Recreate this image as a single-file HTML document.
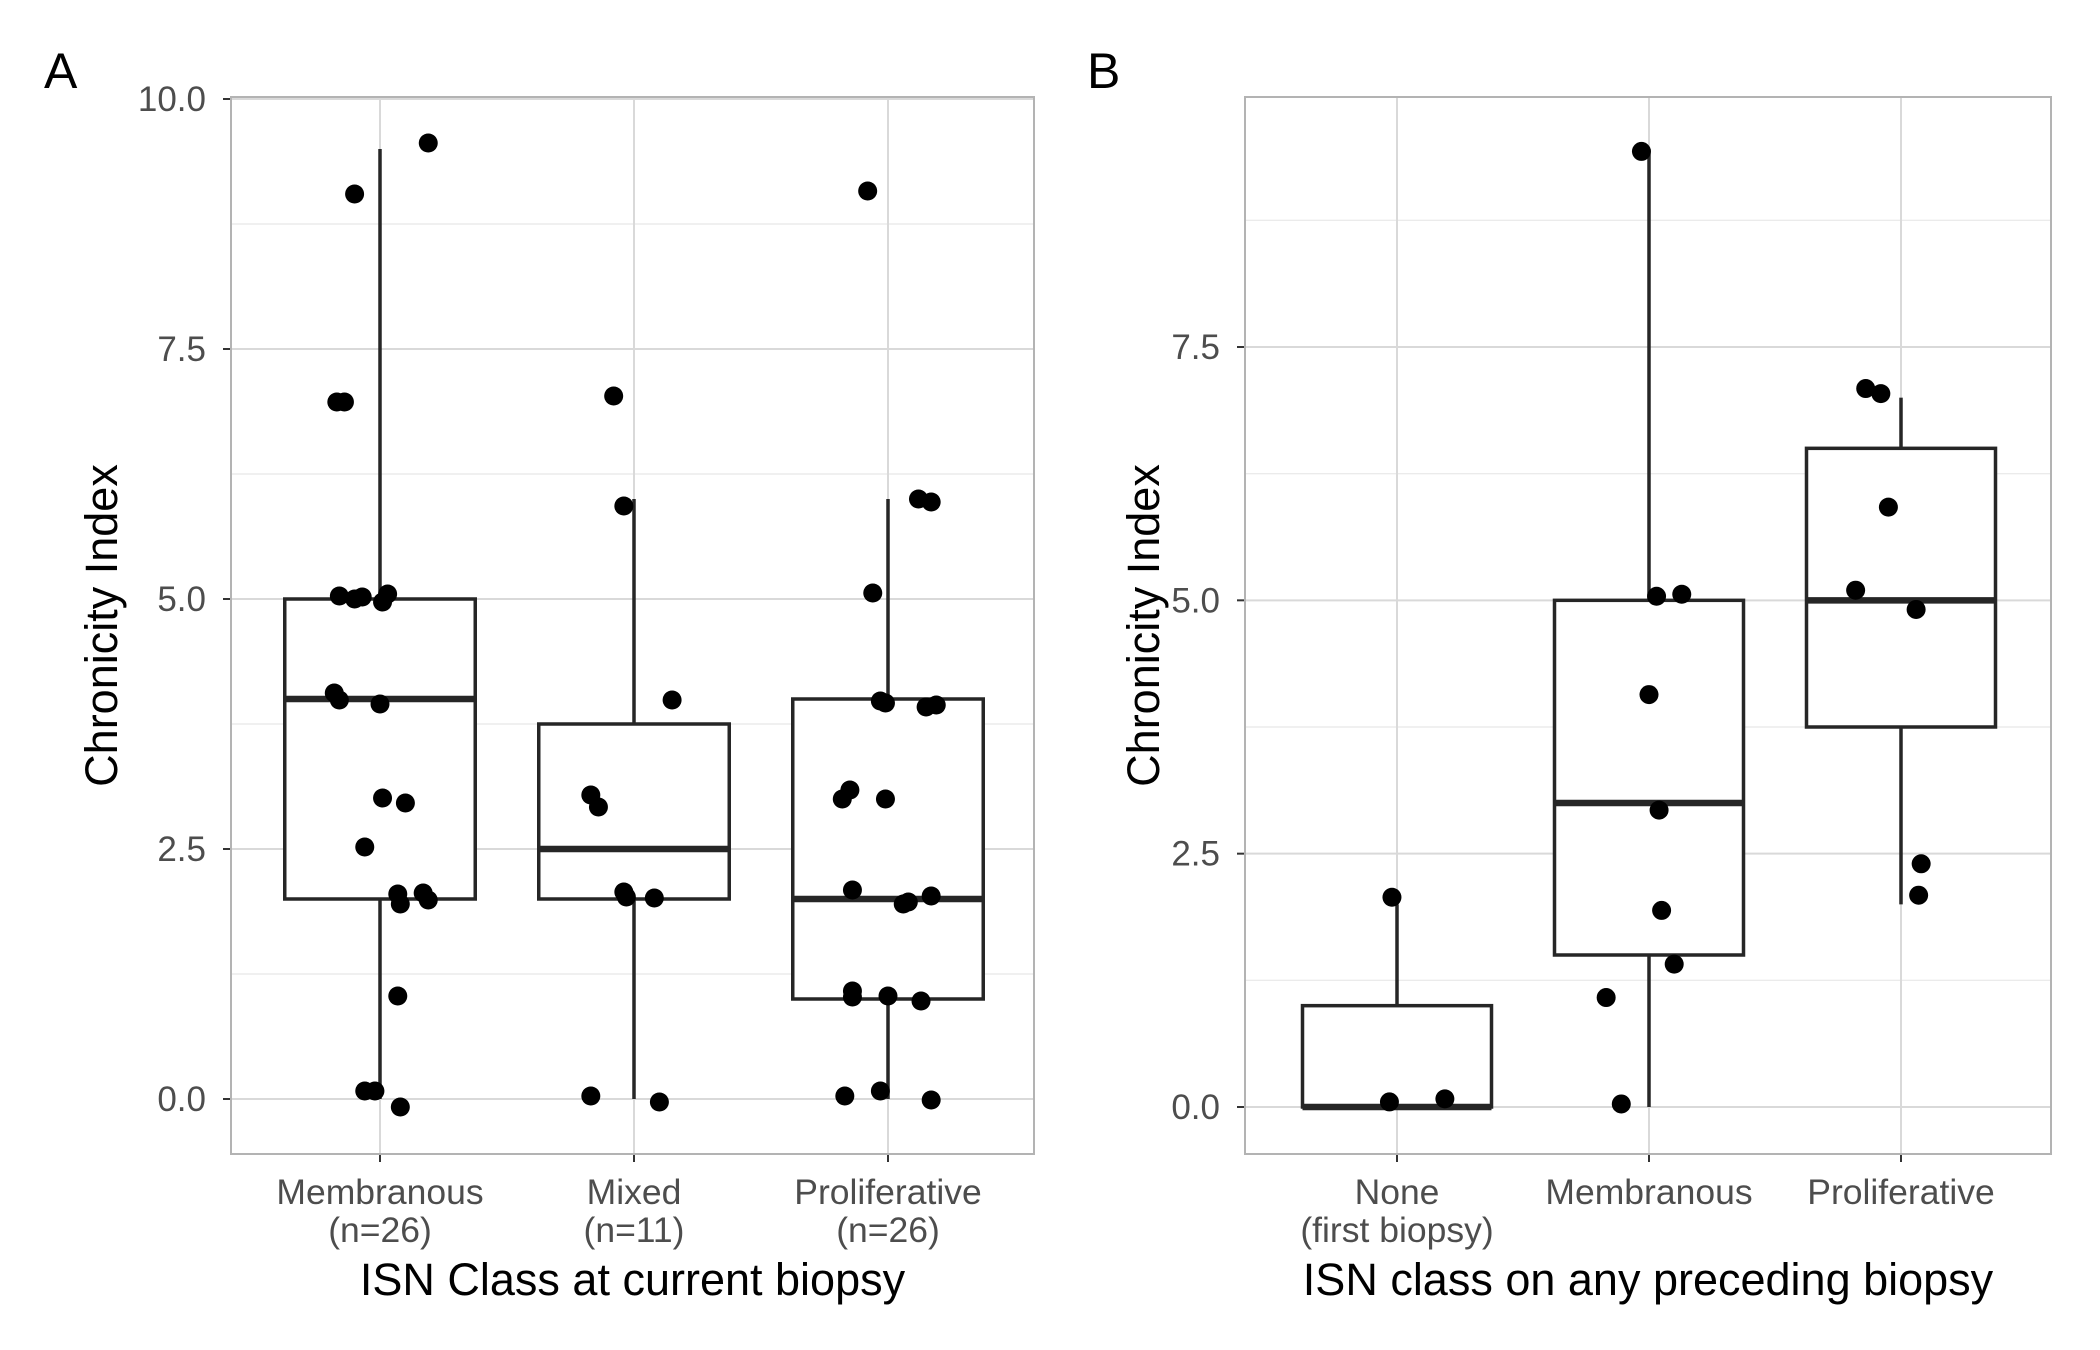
<!DOCTYPE html>
<html><head><meta charset="utf-8"><style>
html,body{margin:0;padding:0;background:#fff;}
svg{display:block;font-family:"Liberation Sans",sans-serif;}
</style></head><body>
<svg id="chart" width="2100" height="1350" viewBox="0 0 2100 1350"></svg>
<script>
// Panel A data
const catsA = ["Membranous\n(n=26)", "Mixed\n(n=11)", "Proliferative\n(n=26)"];
const boxesA = [ [0,2,4,5,9.5], [0,2,2.5,3.75,6], [0,1,2,4,6] ]; // min,q1,med,q3,max
const ptsA_cat = [0,0,0,0,0,0,0,0,0,0,0,0,0,0,0,0,0,0,0,0,0,0,0, 1,1,1,1,1,1,1,1,1,1, 2,2,2,2,2,2,2,2,2,2,2,2,2,2,2,2,2,2,2,2,2,2];
const ptsA_jit = [-0.1,0.19,-0.17,-0.14,-0.16,-0.1,-0.07,0.01,0.03,-0.18,-0.16,0,0.01,0.1,-0.06,0.07,0.17,0.08,0.19,0.07,-0.06,-0.02,0.08, -0.08,-0.04,0.15,-0.17,-0.14,-0.04,-0.03,0.08,-0.17,0.1, -0.08,0.12,0.17,-0.06,-0.03,-0.01,0.15,0.19,-0.18,-0.15,-0.01,-0.14,0.06,0.08,0.17,-0.14,-0.14,0,0.13,-0.17,-0.03,0.17];
const ptsA_val = [9.05,9.56,6.97,6.97,5.03,5.0,5.02,4.97,5.05,4.06,3.99,3.95,3.01,2.96,2.52,2.05,2.06,1.95,1.99,1.03,0.08,0.08,-0.08, 7.03,5.93,3.99,3.04,2.92,2.07,2.02,2.01,0.03,-0.03, 9.08,6.0,5.97,5.06,3.98,3.96,3.92,3.94,3.0,3.09,3.0,2.09,1.95,1.97,2.03,1.08,1.02,1.03,0.98,0.03,0.08,-0.01];
const ticksA = [0,2.5,5,7.5,10];
const tickLabelsA = ["0.0","2.5","5.0","7.5","10.0"];
// Panel B data
const catsB = ["None\n(first biopsy)", "Membranous", "Proliferative"];
const boxesB = [ [0,0,0,1,2], [0,1.5,3,5,9.45], [2,3.75,5,6.5,7] ];
const ptsB_cat = [0,0,0, 1,1,1,1,1,1,1,1,1, 2,2,2,2,2,2,2];
const ptsB_jit = [-0.02,-0.03,0.19, -0.03,0.03,0.13,0,0.04,0.05,0.1,-0.17,-0.11, -0.14,-0.08,-0.05,-0.18,0.06,0.08,0.07];
const ptsB_val = [2.07,0.05,0.08, 9.43,5.04,5.06,4.07,2.93,1.94,1.41,1.08,0.03, 7.09,7.04,5.92,5.1,4.91,2.4,2.09];
const ticksB = [0,2.5,5,7.5];
const tickLabelsB = ["0.0","2.5","5.0","7.5"];

const NS="http://www.w3.org/2000/svg";
const svg=document.getElementById('chart');
function mk(tag,attrs,parent){const e=document.createElementNS(NS,tag);for(const k in attrs)e.setAttribute(k,attrs[k]);(parent||svg).appendChild(e);return e;}

function panel(o){
  const g=mk('g',{});
  
  
  const y=v=>o.y0+(v-0)*(o.y10-o.y0)/o.ref;
  const x=(c,j)=>o.xs[0]+(c+(j||0))*(o.xs[1]-o.xs[0]);
  const xstep=o.xs[1]-o.xs[0];
  mk('rect',{x:o.L,y:o.T,width:o.R-o.L,height:o.B-o.T,fill:'#fff'},g);
  for(let i=0;i<o.ticks.length;i++){
    const m=o.ticks[i]+1.25; const yy=y(m);
    if(yy>o.T&&yy<o.B){const l=mk('line',{x1:o.L,x2:o.R,y1:yy,y2:yy,stroke:'#ebebeb','stroke-width':1.4},g);
    }
  }
  o.ticks.forEach((t,i)=>{const yy=y(t);
    const l=mk('line',{x1:o.L,x2:o.R,y1:yy,y2:yy,stroke:'#d9d9d9','stroke-width':2},g);
    
    const tk=mk('line',{x1:o.L-8,x2:o.L,y1:yy,y2:yy,stroke:'#333','stroke-width':2},g);
    
    const tx=mk('text',{x:o.L-25,y:yy+12,'text-anchor':'end','font-size':35,fill:'#4d4d4d'},g);
    tx.textContent=o.tickLabels[i];
    
  });
  o.cats.forEach((c,i)=>{const xx=x(i);
    const l=mk('line',{x1:xx,x2:xx,y1:o.T,y2:o.B,stroke:'#d9d9d9','stroke-width':2},g);
    
    const tk=mk('line',{x1:xx,x2:xx,y1:o.B,y2:o.B+8,stroke:'#333','stroke-width':2},g);
    
    c.split('\n').forEach((ln,k)=>{
      const tx=mk('text',{x:xx,y:o.B+50+k*38,'text-anchor':'middle','font-size':35.5,fill:'#4d4d4d'},g);
      tx.textContent=ln;
      
    });
  });
  o.boxes.forEach((b,i)=>{const xx=x(i), hw=xstep*0.375;
    const bg=mk('g',{},g);
    
    mk('line',{x1:xx,x2:xx,y1:y(b[0]),y2:y(b[1]),stroke:'#262626','stroke-width':3.5},bg);
    mk('line',{x1:xx,x2:xx,y1:y(b[3]),y2:y(b[4]),stroke:'#262626','stroke-width':3.5},bg);
    mk('rect',{x:xx-hw,y:y(b[3]),width:2*hw,height:y(b[1])-y(b[3]),fill:'#fff',stroke:'#262626','stroke-width':3.5},bg);
    mk('line',{x1:xx-hw,x2:xx+hw,y1:y(b[2]),y2:y(b[2]),stroke:'#262626','stroke-width':6.5},bg);
  });
  o.pc.forEach((c,i)=>{
    const p=mk('circle',{cx:x(c,o.pj[i]),cy:y(o.pv[i]),r:9.5,fill:'#000'},g);
    
  });
  const br=mk('rect',{x:o.L,y:o.T,width:o.R-o.L,height:o.B-o.T,fill:'none',stroke:'#b3b3b3','stroke-width':2},g);
  
  const xt=mk('text',{x:(o.L+o.R)/2,y:1295,'text-anchor':'middle','font-size':45,fill:'#000'},g);
  xt.textContent=o.xtitle;
  const yt=mk('text',{x:0,y:0,'text-anchor':'middle','font-size':45,fill:'#000',transform:`translate(${o.ytx},${(o.T+o.B)/2}) rotate(-90)`},g);
  yt.textContent='Chronicity Index';
  const lt=mk('text',{x:o.letterX,y:88,'font-size':50,fill:'#000'},g);
  lt.textContent=o.letter;
}
panel({name:'panel-a',L:231,R:1034,T:97,B:1154,y0:1099,y10:99,ref:10,xs:[380,634],cats:catsA,boxes:boxesA,pc:ptsA_cat,pj:ptsA_jit,pv:ptsA_val,ticks:ticksA,tickLabels:tickLabelsA,xtitle:'ISN Class at current biopsy',ytx:117,letter:'A',letterX:44});
panel({name:'panel-b',L:1245,R:2051,T:97,B:1154,y0:1107,y10:347,ref:7.5,xs:[1397,1649],cats:catsB,boxes:boxesB,pc:ptsB_cat,pj:ptsB_jit,pv:ptsB_val,ticks:ticksB,tickLabels:tickLabelsB,xtitle:'ISN class on any preceding biopsy',ytx:1159,letter:'B',letterX:1087});
</script>
</body></html>
